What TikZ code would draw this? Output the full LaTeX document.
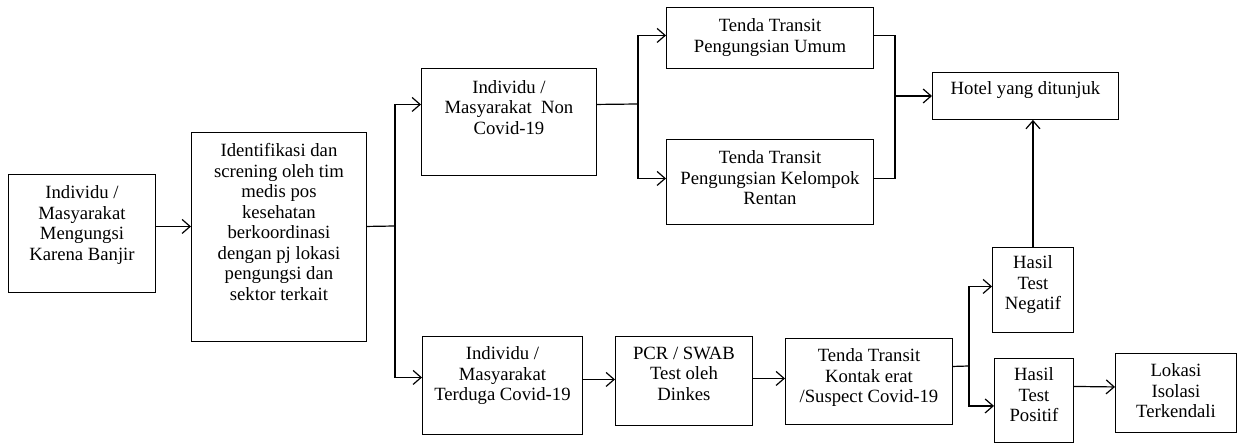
\documentclass[tikz,border=0pt]{standalone}
\usepackage{fontspec}
\setmainfont{Liberation Serif}
\usetikzlibrary{arrows.meta}

% box text: width, height, top padding, lines
\newcommand\bxt[4]{\parbox[c][#2][t]{#1}{\centering\vspace*{#3}#4\par}}

\tikzset{
  box/.style={draw=black, line width=0.9pt, inner sep=0pt, anchor=north west,
    font=\fontsize{18.7pt}{20.5pt}\selectfont},
  ln/.style={line width=1.2pt},
  arr/.style={line width=1.2pt, -{Straight Barb[length=8pt,width=14pt,line width=1.2pt]}}
}

\begin{document}
\begin{tikzpicture}[x=1pt, y=-1pt]
\useasboundingbox (0,0) rectangle (1238,443);

% boxes
\node[box] (b1) at (8,174) {\bxt{147pt}{118pt}{11.5pt}{Individu /\\Masyarakat\\Mengungsi\\Karena Banjir}};
\node[box] (b2) at (191,132) {\bxt{175pt}{209pt}{11pt}{Identifikasi dan\\screning oleh tim\\medis pos\\kesehatan\\berkoordinasi\\dengan pj lokasi\\pengungsi dan\\sektor terkait}};
\node[box] (b3) at (421,68) {\bxt{175pt}{107pt}{12pt}{Individu /\\Masyarakat\ \ Non\\Covid-19}};
\node[box] (umum) at (666,7) {\bxt{207pt}{61pt}{11.5pt}{Tenda Transit\\Pengungsian Umum}};
\node[box] (rentan) at (666,139) {\bxt{207pt}{85pt}{11.5pt}{Tenda Transit\\Pengungsian Kelompok\\Rentan}};
\node[box] (hotel) at (932,72) {\bxt{186pt}{47pt}{9.5pt}{Hotel yang ditunjuk}};
\node[box] (t1) at (422,336) {\bxt{160pt}{98pt}{10.5pt}{Individu /\\Masyarakat\\Terduga Covid-19}};
\node[box] (pcr) at (615,336) {\bxt{137pt}{89pt}{10.5pt}{PCR / SWAB\\Test oleh\\Dinkes}};
\node[box] (kontak) at (785,338) {\bxt{167pt}{86pt}{10.5pt}{Tenda Transit\\Kontak erat\\/Suspect Covid-19}};
\node[box] (neg) at (992,247) {\bxt{81pt}{85pt}{8.5pt}{Hasil\\Test\\Negatif}};
\node[box] (pos) at (994,358) {\bxt{79pt}{84pt}{9.5pt}{Hasil\\Test\\Positif}};
\node[box] (lok) at (1115,353) {\bxt{121pt}{79pt}{10.5pt}{Lokasi\\Isolasi\\Terkendali}};

% branch points
\coordinate (j1) at (395,226);
\coordinate (j2) at (638,104);
\coordinate (j3) at (895,96);
\coordinate (j4) at (969,366);

% connectors
\draw[arr] ([yshift=7pt]b1.east) -- ([yshift=7pt]b1.east -| b2.west);
\draw[ln] ([yshift=10.5pt]b2.east) -- (j1);
\draw[arr] (j1) |- ([yshift=17.5pt]b3.west);
\draw[arr] (j1) |- ([yshift=8pt]t1.west);

\draw[ln] ([yshift=17.5pt]b3.east) -- (j2);
\draw[arr] (j2) |- ([yshift=2.5pt]umum.west);
\draw[arr] (j2) |- ([yshift=3.5pt]rentan.west);

\draw[ln] ([yshift=2.5pt]umum.east) -| (j3);
\draw[ln] ([yshift=3.5pt]rentan.east) -| (j3);
\draw[arr] (j3) -- (j3 -| hotel.west);

\draw[arr] ([yshift=6pt]t1.east) -- ([yshift=6pt]t1.east -| pcr.west);
\draw[arr] ([yshift=2.5pt]pcr.east) -- ([yshift=2.5pt]pcr.east -| kontak.west);

\draw[ln] ([yshift=15pt]kontak.east) -- (j4);
\draw[arr] (j4) |- ([yshift=3.5pt]neg.west);
\draw[arr] (j4) |- ([yshift=-5.5pt]pos.west);

\draw[arr] (neg.north) -- (neg.north |- hotel.south);
\draw[arr] ([yshift=14pt]pos.east) -- ([yshift=6pt]lok.west);
\end{tikzpicture}
\end{document}
